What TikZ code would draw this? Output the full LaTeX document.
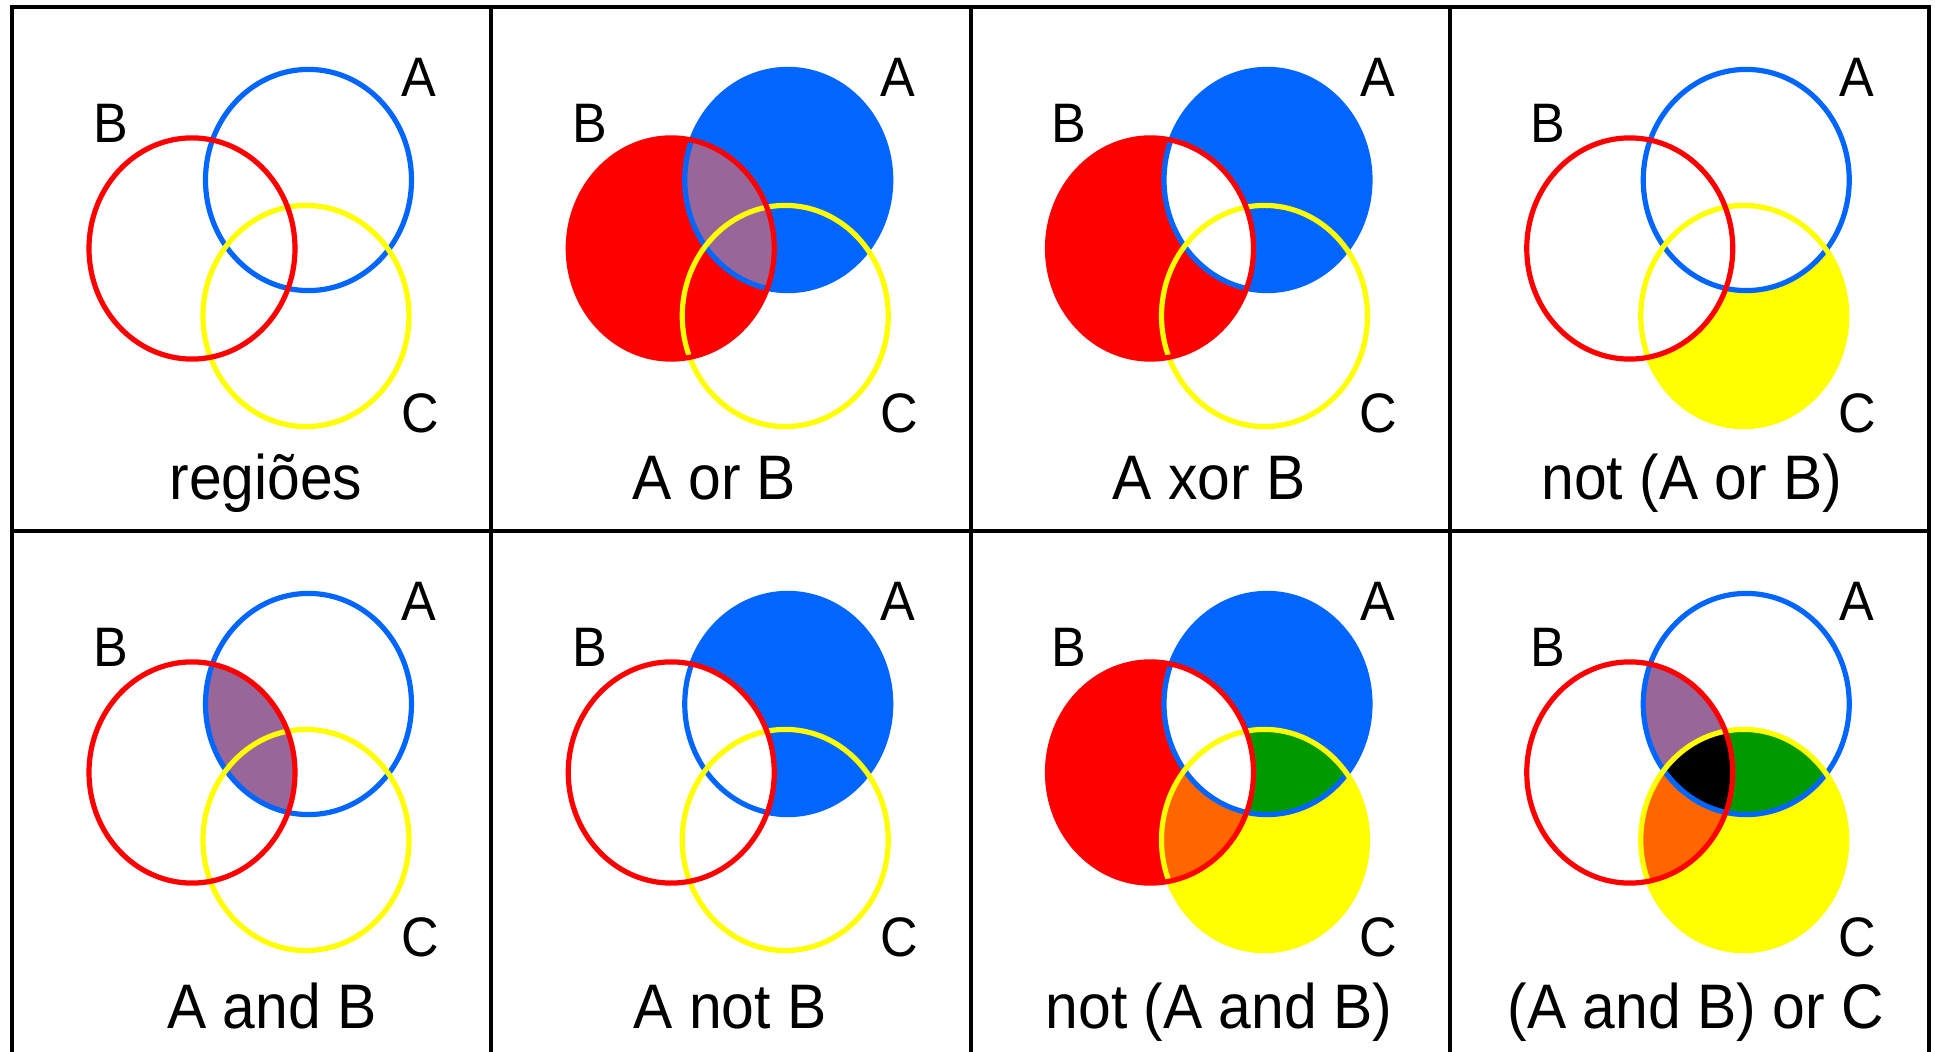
\documentclass[tikz,border=0pt]{standalone}
\usepackage{fontspec}
\setmainfont{Liberation Sans}
\usepackage{graphicx}
\definecolor{setblue}{HTML}{0066FF}
\definecolor{setred}{HTML}{FF0000}
\definecolor{setyellow}{HTML}{FFFF00}
\definecolor{setpurple}{HTML}{996699}
\definecolor{setgreen}{HTML}{009900}
\definecolor{setorange}{HTML}{FF6600}
% the three sets, relative to a panel's corner
\def\setA{(296.5,173) ellipse [x radius=51.5pt, y radius=55.3pt]}
\def\setB{(180,241.5) ellipse [x radius=51.5pt, y radius=55.3pt]}
\def\setC{(294,309) ellipse [x radius=51.5pt, y radius=55.3pt]}
\newcommand\tall[1]{\scalebox{1}[1.07]{#1}}

\begin{document}
\begin{tikzpicture}[x=0.5pt,y=-0.5pt,
  ring/.style={line width=2.6pt},
  gridline/.style={line width=2pt,black},
  lbl/.style={font=\fontsize{26}{26}\selectfont,inner sep=0pt},
  title/.style={font=\fontsize{29.4}{30}\selectfont,anchor=base,inner sep=0pt}]
\useasboundingbox (0,0) rectangle (1935,1052);
% A or B
\begin{scope}[shift={(491.25,7)}]
\fill[setred] \setB;
\fill[setblue] \setA;
\begin{scope} \clip \setA; \fill[setpurple] \setB; \end{scope}
\end{scope}
% A xor B
\begin{scope}[shift={(970.5,7)}]
\fill[setred] \setB;
\fill[setblue] \setA;
\begin{scope} \clip \setA; \fill[white] \setB; \end{scope}
\end{scope}
% not (A or B)
\begin{scope}[shift={(1449.75,7)}]
\fill[setyellow] \setC;
\begin{scope} \clip \setC; \fill[white] \setA; \fill[white] \setB; \end{scope}
\end{scope}
% A and B
\begin{scope}[shift={(12,531)}]
\begin{scope} \clip \setA; \fill[setpurple] \setB; \end{scope}
\end{scope}
% A not B
\begin{scope}[shift={(491.25,531)}]
\fill[setblue] \setA;
\begin{scope} \clip \setA; \fill[white] \setB; \end{scope}
\end{scope}
% not (A and B)
\begin{scope}[shift={(970.5,531)}]
\fill[setred] \setB;
\fill[setblue] \setA;
\fill[setyellow] \setC;
\begin{scope} \clip \setC; \fill[setgreen] \setA; \fill[setorange] \setB; \end{scope}
\begin{scope} \clip \setA; \fill[white] \setB; \end{scope}
\end{scope}
% (A and B) or C
\begin{scope}[shift={(1449.75,531)}]
\fill[setyellow] \setC;
\begin{scope} \clip \setC; \fill[setgreen] \setA; \fill[setorange] \setB; \end{scope}
\begin{scope} \clip \setA; \fill[setpurple] \setB; \end{scope}
\begin{scope} \clip \setA; \clip \setB; \fill[black] \setC; \end{scope}
\end{scope}
% rings, letters and captions of every panel
\foreach \ox/\oy/\k/\cx/\cy/\txt in {12/7/1/254/493/{regiões},
    491.25/7/2/223.25/493/{A or B}, 970.5/7/3/238.5/493/{A xor B},
    1449.75/7/4/242/493/{not (A or B)}, 12/531/5/260/497.5/{A and B},
    491.25/531/6/238.75/497.5/{A not B}, 970.5/531/7/248.5/497.5/{not (A and B)},
    1449.75/531/8/246/497.5/{(A and B) or C}}{
  \begin{scope}[shift={(\ox,\oy)}]
  \draw[ring,setblue] \setA;
  \draw[ring,setyellow] \setC;
  \draw[ring,setred] \setB;
  \node[lbl] (a\k) at (407,70.5) {\tall{A}};
  \node[lbl] (b\k) at (98.5,116.5) {\tall{B}};
  \node[lbl] (c\k) at (408,406.5) {\tall{C}};
  \node[title] (t\k) at (\cx,\cy) {\tall{\txt}};
  \end{scope}
}
% grid
\draw[gridline] (12,1052) -- (12,7) -- (1929,7) -- (1929,1052);
\foreach \x in {491.25,970.5,1449.75} \draw[gridline] (\x,7) -- (\x,1052);
\draw[gridline] (12,531) -- (1929,531);
\end{tikzpicture}
\end{document}
